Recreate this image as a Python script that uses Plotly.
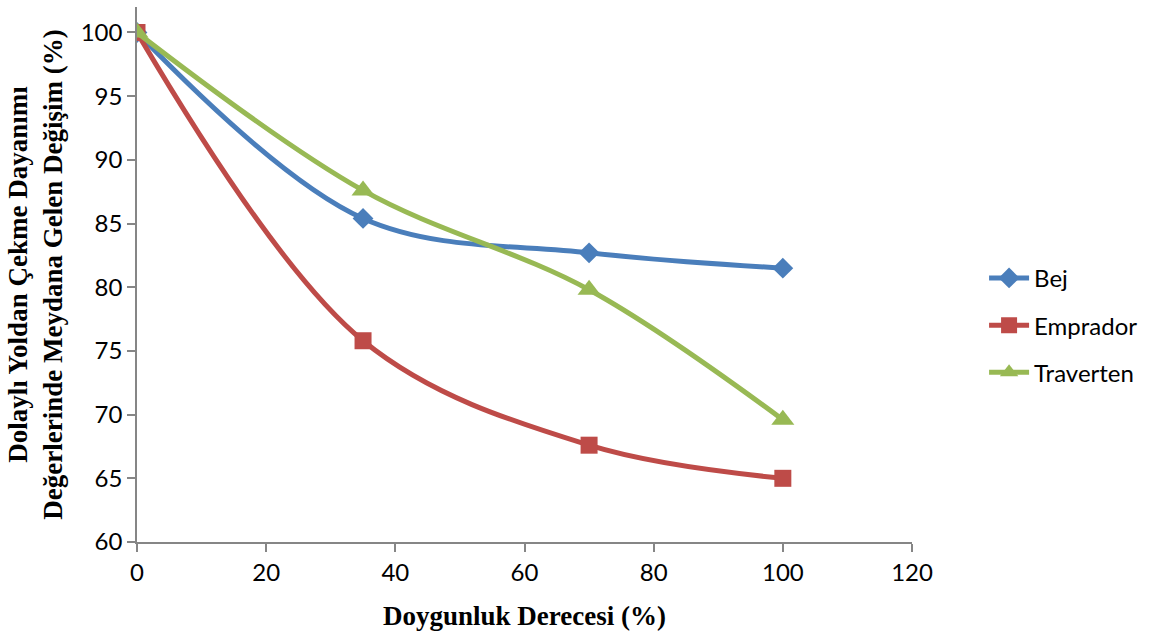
import plotly.graph_objects as go

x = [0, 35, 70, 100]
bej = [100, 85.4, 82.7, 81.5]
emprador = [100, 75.8, 67.6, 65.0]
traverten = [100, 87.6, 79.8, 69.6]

series = [
    ("Bej", bej, "#4A7EBB", "diamond", 16),
    ("Emprador", emprador, "#BE4B48", "square", 17),
    ("Traverten", traverten, "#98B954", "triangle-up", 20),
]

fig = go.Figure()
for name, ys, col, sym, sz in series:
    fig.add_trace(go.Scatter(
        x=x, y=ys, name=name, mode="lines+markers", legendgroup=name,
        line=dict(color=col, width=5, shape="spline", smoothing=1),
        marker=dict(symbol=sym, size=sz, color=col),
    ))

axis_font = dict(family="Lato, Open Sans, sans-serif", size=24, color="black")
title_font = dict(family="Liberation Serif, Times New Roman, serif", size=27, color="black")

fig.update_layout(
    width=1166, height=634,
    margin=dict(l=137, r=254, t=7, b=92),
    plot_bgcolor="white", paper_bgcolor="white",
    legend=dict(x=1.093, y=0.405, xanchor="left", yanchor="middle",
                font=dict(family="Lato, Open Sans, sans-serif", size=24, color="black"),
                tracegroupgap=13, itemsizing="trace", itemwidth=40),
    xaxis=dict(range=[0, 120], tick0=0, dtick=20, showgrid=False, zeroline=False,
               showline=True, linecolor="#868686", linewidth=1.5,
               ticks="outside", ticklen=8, tickcolor="#868686", tickwidth=1.5,
               tickfont=axis_font,
               title=dict(text="<b>Doygunluk Derecesi (%)</b>", font=title_font, standoff=22)),
    yaxis=dict(range=[60, 102], tick0=60, dtick=5, showgrid=False, zeroline=False,
               showline=True, linecolor="#868686", linewidth=1.5,
               ticks="outside", ticklen=8, tickcolor="#868686", tickwidth=1.5,
               tickfont=axis_font,
               title=dict(text="<b>Dolaylı Yoldan Çekme Dayanımı<br>Değerlerinde Meydana Gelen Değişim (%)</b>",
                          font=title_font, standoff=10)),
)

fig.write_html("out.html")
